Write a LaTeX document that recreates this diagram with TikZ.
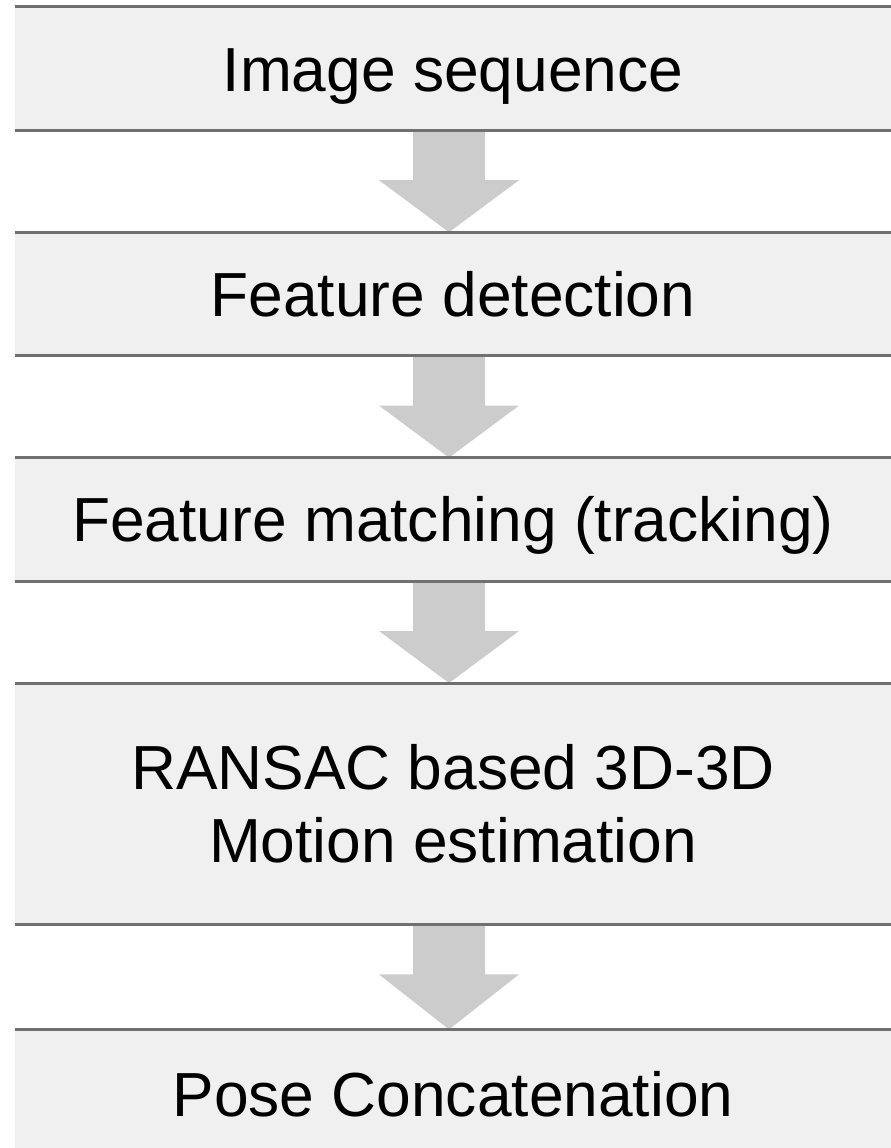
\documentclass[tikz,border=0pt]{standalone}
\usepackage{fontspec}
\setmainfont{Liberation Sans}
\usepackage{xcolor}
\usepackage{tikz}
\usetikzlibrary{positioning,calc}

\definecolor{boxgray}{RGB}{240,240,240}
\definecolor{rulegray}{RGB}{112,112,112}
\definecolor{arrowgray}{RGB}{205,204,205}

\begin{document}
\begin{tikzpicture}[x=1bp, y=1bp, node distance=102bp,
    stage/.style={rectangle, fill=boxgray, minimum width=876bp, minimum height=123bp,
                  inner sep=0pt, align=center, font=\fontsize{62.5}{73}\selectfont},
    oneline/.style={text height=45bp, text depth=0pt},
    rule/.style={rulegray, line width=3bp},
    flow/.style={arrowgray}]
  \useasboundingbox (0,0) rectangle (891,-1148);

  \node[stage, oneline] (Img) at (453,-68.5) {Image sequence};
  \node[stage, oneline] (Det) [below=of Img] {Feature detection};
  \node[stage, oneline] (Match) [below=of Det] {Feature matching (tracking)};
  \node[stage, minimum height=241bp] (Ransac) [below=of Match] {RANSAC based 3D-3D\\Motion estimation};
  \node[stage, oneline, minimum height=128bp] (Pose) [below=105bp of Ransac] {Pose Concatenation};

  % block arrows between the stages
  \foreach \a/\b in {Img/Det, Det/Match, Match/Ransac, Ransac/Pose}
    \fill[flow] ([xshift=-40bp]\a.south) -- ([xshift=32bp]\a.south)
      -- ([xshift=32bp,yshift=-50bp]\a.south) -- ([xshift=66bp,yshift=-50bp]\a.south)
      -- ([xshift=-4bp]\b.north)
      -- ([xshift=-74bp,yshift=-50bp]\a.south) -- ([xshift=-40bp,yshift=-50bp]\a.south) -- cycle;

  % top and bottom rules of each box
  \foreach \n in {Img, Det, Match, Ransac, Pose} {
    \draw[rule] (\n.north west) -- (\n.north east);
    \draw[rule] (\n.south west) -- (\n.south east);
  }

\end{tikzpicture}
\end{document}
